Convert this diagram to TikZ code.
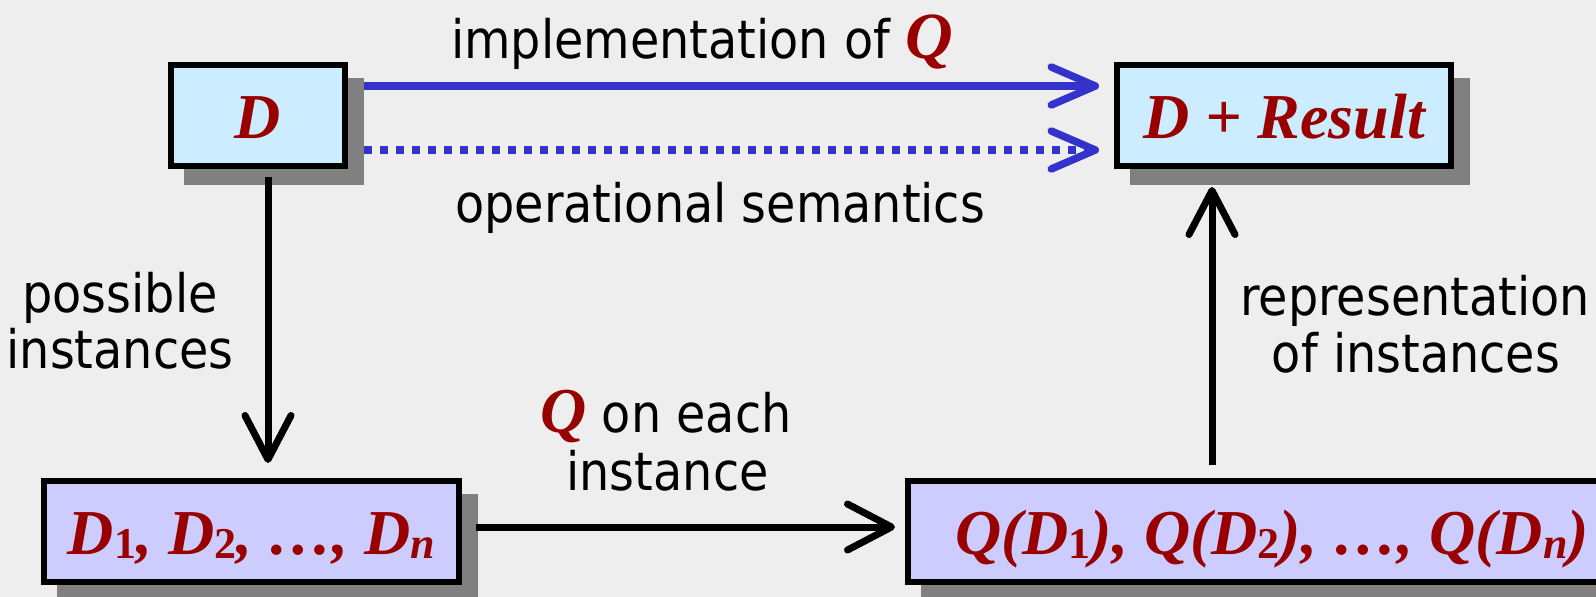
\documentclass[tikz,border=0pt]{standalone}
\usepackage{fontspec}
\setmainfont{Liberation Serif}
\newfontfamily\lblfont[FakeStretch=0.9]{DejaVu Sans}
\usetikzlibrary{arrows.meta}

\definecolor{bgc}{HTML}{EEEEEE}
\definecolor{dred}{HTML}{990000}
\definecolor{ltblue}{HTML}{CCECFF}
\definecolor{lavender}{HTML}{CCCCFF}
\definecolor{shadowc}{HTML}{808080}
\definecolor{arrblue}{HTML}{3333CC}

\pgfdeclarelayer{bg}
\pgfsetlayers{bg,main}

% red bold italic serif symbols and their subscripts
\newcommand\rsym[2]{{\rmfamily\fontsize{#1}{#1}\selectfont\color{dred}\bfseries\itshape #2}}
\newcommand\sbs[1]{\raisebox{-4pt}{\fontsize{44}{44}\selectfont #1}}

\tikzset{
  box/.style={draw=black, line width=6pt, minimum height=101pt,
    text height=46pt, text depth=0pt, inner sep=0pt, text=dred,
    font={\fontsize{64}{64}\selectfont\bfseries\itshape}},
  topbox/.style={box, fill=ltblue},
  botbox/.style={box, fill=lavender},
  lbl/.style={font={\lblfont\fontsize{53}{53}\selectfont}, inner sep=0pt, anchor=base},
  lblw/.style={lbl, anchor=base west},
  blk/.style={draw=black, line width=7pt,
    -{Straight Barb[length=44pt, width=46pt, round]}},
  blu/.style={draw=arrblue, line width=7.5pt,
    -{Straight Barb[length=44pt, width=38pt, round]}},
  bludot/.style={blu, line cap=butt, dash pattern=on 8pt off 8pt},
  shade/.style={fill=shadowc},
}

\begin{document}
\begin{tikzpicture}[x=1pt, y=-1pt]
  \useasboundingbox (0,0) rectangle (1596,597);
  \clip (0,0) rectangle (1596,597);
  \begin{pgfonlayer}{bg}
    \fill[bgc] (0,0) rectangle (1596,597);
  \end{pgfonlayer}

  % the four boxes
  \node[topbox, minimum width=174pt] (D) at (258,115.5) {D};
  \node[topbox, minimum width=334pt] (DR) at (1284,115.5) {D + Result};
  \node[botbox, minimum width=415pt] (D1) at (251.5,531.5)
    {D\sbs{\upshape 1}, D\sbs{\upshape 2}, …, D\sbs{n}};
  \node[botbox, minimum width=728pt] (Q) at (1272,531.5)
    {Q(D\sbs{\upshape 1}), Q(D\sbs{\upshape 2}), …, Q(D\sbs{n})};

  % drop shadows behind the boxes
  \begin{pgfonlayer}{bg}
    \foreach \b in {D,DR,D1,Q}
      \fill[shade] ([shift={(16pt,-16pt)}]\b.south west) rectangle ([shift={(16pt,-16pt)}]\b.north east);
  \end{pgfonlayer}

  % connectors
  \draw[blu, shorten >=15pt] ([xshift=16pt, yshift=29.5pt]D.east) -- ([yshift=29.5pt]DR.west);
  \draw[bludot, shorten >=15pt] ([xshift=16pt, yshift=-34.5pt]D.east) -- ([yshift=-34.5pt]DR.west);

  \coordinate (down) at ([xshift=10pt, yshift=-8pt]D.south);
  \draw[blk, shorten >=15pt] (down) -- (down |- D1.north);

  \draw[blk, shorten >=10pt] ([xshift=14pt, yshift=4.5pt]D1.east) -- ([yshift=4.5pt]Q.west);

  \coordinate (up) at ([xshift=-72pt]DR.south);
  \draw[blk, shorten <=13pt, shorten >=18pt] (up |- Q.north) -- (up);

  % labels
  \node[lblw] (limpl) at (451,58) {implementation of \rsym{66}{Q}};
  \node[lblw] (lsem) at (455,222) {operational semantics};
  \node[lbl] (lposs) at (120,312) {possible};
  \node[lbl] (linst) at (120,368) {instances};
  \node[lbl] (lrep) at (1415,315) {representation};
  \node[lbl] (lofi) at (1416,372) {of instances};
  \node[lbl] (leach) at (666,432) {\rsym{64}{Q} on each};
  \node[lbl] (lone) at (667.5,490) {instance};
\end{tikzpicture}
\end{document}
